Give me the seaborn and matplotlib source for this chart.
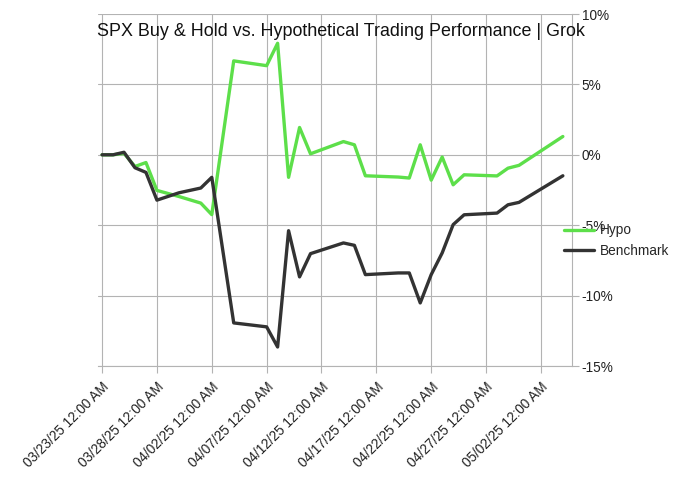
import pandas as pd
import matplotlib
matplotlib.use("Agg")
import matplotlib.pyplot as plt
import matplotlib.dates as mdates
from matplotlib.ticker import FuncFormatter, MultipleLocator, FixedLocator
import seaborn as sns

# values (percent return)
dates = ["2025-03-23", "2025-03-24", "2025-03-25", "2025-03-26", "2025-03-27",
         "2025-03-28", "2025-03-30", "2025-04-01", "2025-04-02", "2025-04-04",
         "2025-04-07", "2025-04-08", "2025-04-09", "2025-04-10", "2025-04-11",
         "2025-04-14", "2025-04-15", "2025-04-16", "2025-04-19", "2025-04-20",
         "2025-04-21", "2025-04-22", "2025-04-23", "2025-04-24", "2025-04-25",
         "2025-04-28", "2025-04-29", "2025-04-30", "2025-05-04"]
hypo = [0.0, 0.0, 0.1, -0.83, -0.55, -2.53, -2.96, -3.43, -4.25, 6.67,
        6.33, 7.92, -1.6, 1.94, 0.07, 0.94, 0.71, -1.49, -1.58, -1.65,
        0.71, -1.8, -0.16, -2.13, -1.42, -1.5, -0.95, -0.75, 1.3]
bench = [0.0, 0.0, 0.18, -0.92, -1.25, -3.22, -2.7, -2.36, -1.6, -11.94,
         -12.22, -13.65, -5.39, -8.67, -7.02, -6.26, -6.43, -8.51, -8.39, -8.39,
         -10.52, -8.51, -6.97, -4.96, -4.26, -4.14, -3.55, -3.38, -1.49]
series_names = ["Hypo", "Benchmark"]
colors = ["#5ddf4a", "#333333"]
tick_dates = pd.date_range("2025-03-23", "2025-05-02", freq="5D")

df = pd.DataFrame({"Date": pd.to_datetime(dates), "Hypo": hypo, "Benchmark": bench})
long_df = df.melt(id_vars="Date", var_name="Series", value_name="Return")

sns.set_style("white")
plt.rcParams["font.family"] = ["Liberation Sans", "DejaVu Sans"]

fig = plt.figure(figsize=(6.82, 4.83), dpi=100)
ax = fig.add_axes([97.5 / 682, 1 - 366 / 483, (572 - 97.5) / 682, (366 - 14) / 483])

sns.lineplot(data=long_df, x="Date", y="Return", hue="Series",
             hue_order=series_names, palette=colors, linewidth=2.4, ax=ax)

# axes look like the LibreOffice chart
ax.set_xlim(pd.Timestamp("2025-03-23") - pd.Timedelta(hours=10),
            pd.Timestamp("2025-05-04") + pd.Timedelta(hours=20))
ax.set_ylim(-15, 10)
ax.xaxis.set_major_locator(FixedLocator(mdates.date2num(tick_dates)))
ax.xaxis.set_major_formatter(mdates.DateFormatter("%m/%d/%y %I:%M %p"))
ax.yaxis.set_major_locator(MultipleLocator(5))
ax.yaxis.set_major_formatter(FuncFormatter(lambda v, p: f"{v:.0f}%"))
ax.yaxis.tick_right()
ax.yaxis.set_label_position("right")
ax.set_xlabel("")
ax.set_ylabel("")
ax.grid(True, color="#b3b3b3", linewidth=0.8)
for s in ax.spines.values():
    s.set_visible(False)
ax.spines["right"].set_visible(True)
ax.spines["right"].set_color("#b3b3b3")
ax.spines["bottom"].set_visible(True)
ax.spines["bottom"].set_color("#b3b3b3")
ax.tick_params(axis="both", length=5, color="#b3b3b3", labelsize=9.8,
               labelcolor="#222222", bottom=True, right=True)
ax.tick_params(axis="y", pad=2)
ax.tick_params(axis="x", pad=5)
plt.setp(ax.get_xticklabels(), rotation=45, ha="right", rotation_mode="anchor")

ax.legend(loc="center left", bbox_to_anchor=(564 / 682, 1 - 240.7 / 483),
          bbox_transform=fig.transFigure, frameon=False, borderaxespad=0,
          borderpad=0, handlelength=2.2, handletextpad=0.4, labelspacing=0.5,
          fontsize=9.8)

fig.text(0.5, 1 - 31 / 483, "SPX Buy & Hold vs. Hypothetical Trading Performance | Grok",
         ha="center", va="center", fontsize=12.9, color="#111111")

fig.savefig("out.png", dpi=100)
